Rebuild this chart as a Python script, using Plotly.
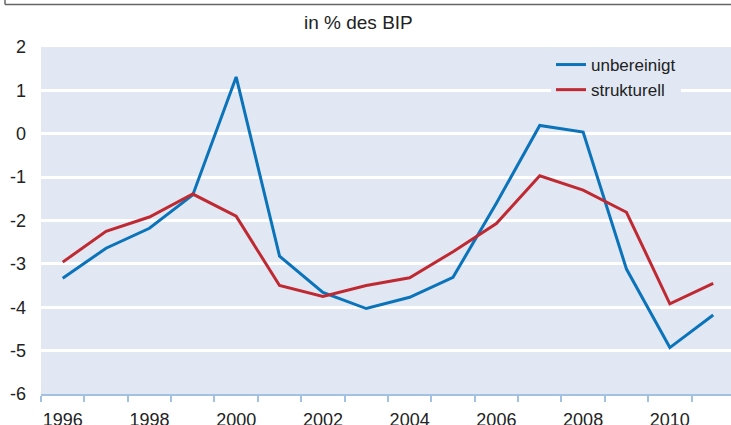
import plotly.graph_objects as go

# Budgetsaldo in % des BIP
years = list(range(1996, 2012))
unbereinigt = [-3.33, -2.64, -2.18, -1.41, 1.31, -2.82, -3.66, -4.03,
               -3.77, -3.31, -1.6, 0.19, 0.04, -3.12, -4.93, -4.18]
strukturell = [-2.96, -2.25, -1.92, -1.39, -1.9, -3.5, -3.75, -3.5,
               -3.32, -2.72, -2.07, -0.97, -1.3, -1.81, -3.92, -3.45]
tick_years = list(range(1996, 2012, 2))
y_ticks = list(range(-6, 3))
y_labels = [str(v) for v in y_ticks]  # plain hyphen, not unicode minus

bg = "#e1e8f4"
fnt = "Liberation Sans, Arial, sans-serif"

# plot area in pixels: left 41, top 47, width 690, height 347
W, H = 690, 347

fig = go.Figure()
fig.add_trace(go.Scatter(x=years, y=unbereinigt, name="unbereinigt", mode="lines",
                         line=dict(color="#0a73ba", width=3)))
fig.add_trace(go.Scatter(x=years, y=strukturell, name="strukturell", mode="lines",
                         line=dict(color="#bf2a32", width=3)))

fig.update_layout(
    width=731, height=425,
    margin=dict(l=41, r=0, t=47, b=31, autoexpand=False),
    paper_bgcolor="white",
    plot_bgcolor=bg,
    font=dict(family=fnt, size=18, color="#222222"),
    showlegend=True,
    legend=dict(x=(551 - 41) / W, y=(394 - 47) / H, xanchor="left", yanchor="top",
                bgcolor=bg, font=dict(size=17, color="#222222"),
                tracegroupgap=0, itemwidth=30),
    annotations=[dict(text="in % des BIP", xref="paper", yref="paper",
                      x=(358 - 41) / W, y=(394 - 22) / H, xanchor="center", yanchor="middle",
                      showarrow=False, font=dict(size=19, color="#222222"))],
)

# frame line at the top of the picture
fig.add_shape(type="line", xref="paper", yref="paper", x0=-36 / W, x1=1.0,
              y0=389.5 / H, y1=389.5 / H, line=dict(color="#666666", width=1.5))
fig.add_shape(type="line", xref="paper", yref="paper", x0=-36 / W, x1=-36 / W,
              y0=389.5 / H, y1=395 / H, line=dict(color="#666666", width=1.5))

fig.update_xaxes(
    range=[1995.5, 2011.41],
    tickvals=tick_years,
    ticks="", showgrid=False, zeroline=False, automargin=False,
    showline=True, linecolor="#a3c1e3", linewidth=1.5,
    ticklabelstandoff=9,
    minor=dict(tickvals=[y - 0.5 for y in years] + [2011.5], ticks="outside",
               ticklen=6, tickcolor="#a3c1e3", tickwidth=1.5, showgrid=False),
    tickfont=dict(size=18),
)
fig.update_yaxes(
    range=[-6, 2],
    tickvals=y_ticks, ticktext=y_labels,
    ticks="", showgrid=True, gridcolor="white", gridwidth=2.5,
    zeroline=False, showline=False, automargin=False,
    ticklabelstandoff=14,
    tickfont=dict(size=18),
)

fig.write_html("out.html", config={"displayModeBar": False},
               post_script="document.body.style.margin='0';")
